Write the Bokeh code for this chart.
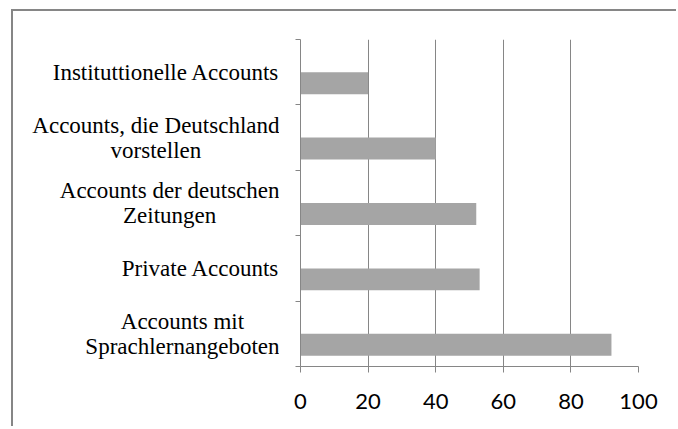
from bokeh.plotting import figure
from bokeh.layouts import row
from bokeh.core.properties import value
from bokeh.models import ColumnDataSource, FixedTicker, Range1d, Spacer
from bokeh.transform import dodge
from bokeh.embed import file_html
from bokeh.resources import INLINE

# categories bottom -> top
categories = [
    "Accounts mit\nSprachlernangeboten",
    "Private Accounts",
    "Accounts der deutschen\nZeitungen",
    "Accounts, die Deutschland\nvorstellen",
    "Instituttionelle Accounts",
]
values = [92, 53, 52, 40, 20]
x_ticks = [0, 20, 40, 60, 80, 100]

n = len(categories)
pos = [i + 0.5 for i in range(n)]
src = ColumnDataSource(dict(pos=pos, val=values, cat=categories, edge=[1] * n))

GRAY = "#868686"
BAR = "#A5A5A5"
H = 417
TOP, BOTTOM = 28, 62

# ---- main chart ----
p = figure(width=391, height=H, output_backend="svg", toolbar_location=None,
           x_range=Range1d(0, 100), y_range=Range1d(0, n),
           min_border_left=21, min_border_top=TOP, min_border_right=32,
           min_border_bottom=BOTTOM)
p.outline_line_color = None

p.hbar(y=dodge("pos", -0.168, range=p.y_range), right="val", left=0, height=0.336,
       source=src, fill_color=BAR, line_color=None)

p.xaxis.ticker = FixedTicker(ticks=x_ticks)
p.xaxis.axis_line_color = GRAY
p.xaxis.major_tick_line_color = GRAY
p.xaxis.major_tick_out = 6
p.xaxis.major_tick_in = 0
p.xaxis.minor_tick_line_color = None
p.xaxis.major_label_text_font = "Lato"
p.xaxis.major_label_text_font_size = "22px"
p.xaxis.major_label_text_color = "black"
p.xaxis.major_label_standoff = 21

# y axis line with ticks at category boundaries (labels drawn at left)
p.yaxis.ticker = FixedTicker(ticks=list(range(n + 1)))
p.yaxis.axis_line_color = GRAY
p.yaxis.major_tick_line_color = GRAY
p.yaxis.major_tick_out = 5
p.yaxis.major_tick_in = 0
p.yaxis.minor_tick_line_color = None
p.yaxis.major_label_text_color = None
p.yaxis.major_label_text_font_size = "0px"
p.yaxis.major_label_standoff = 0

p.xgrid.ticker = FixedTicker(ticks=x_ticks)
p.xgrid.grid_line_color = GRAY
p.ygrid.grid_line_color = None

# ---- category labels panel (shares the y range) ----
lab = figure(width=266, height=H, output_backend="svg", toolbar_location=None,
             x_range=Range1d(0, 1), y_range=p.y_range,
             x_axis_location=None, y_axis_location=None,
             min_border_left=0, min_border_right=0,
             min_border_top=TOP, min_border_bottom=BOTTOM)
lab.outline_line_color = None
lab.grid.grid_line_color = None
lab.text(x="edge", y="pos", text="cat", source=src,
         anchor="center_right", text_align="center", text_baseline="middle",
         text_font=value("Liberation Serif"), text_font_size=value("23px"),
         text_line_height=1.0, text_color="black")

# chart-area frame: only its top and left edges fall inside the window
layout = row(lab, p, Spacer(width=8, height=H),
             styles={"margin-left": "13px", "margin-top": "11px",
                     "box-shadow": "-2px -2px 0px 0px #868686"})

open("out.html", "w").write(file_html(layout, INLINE))
